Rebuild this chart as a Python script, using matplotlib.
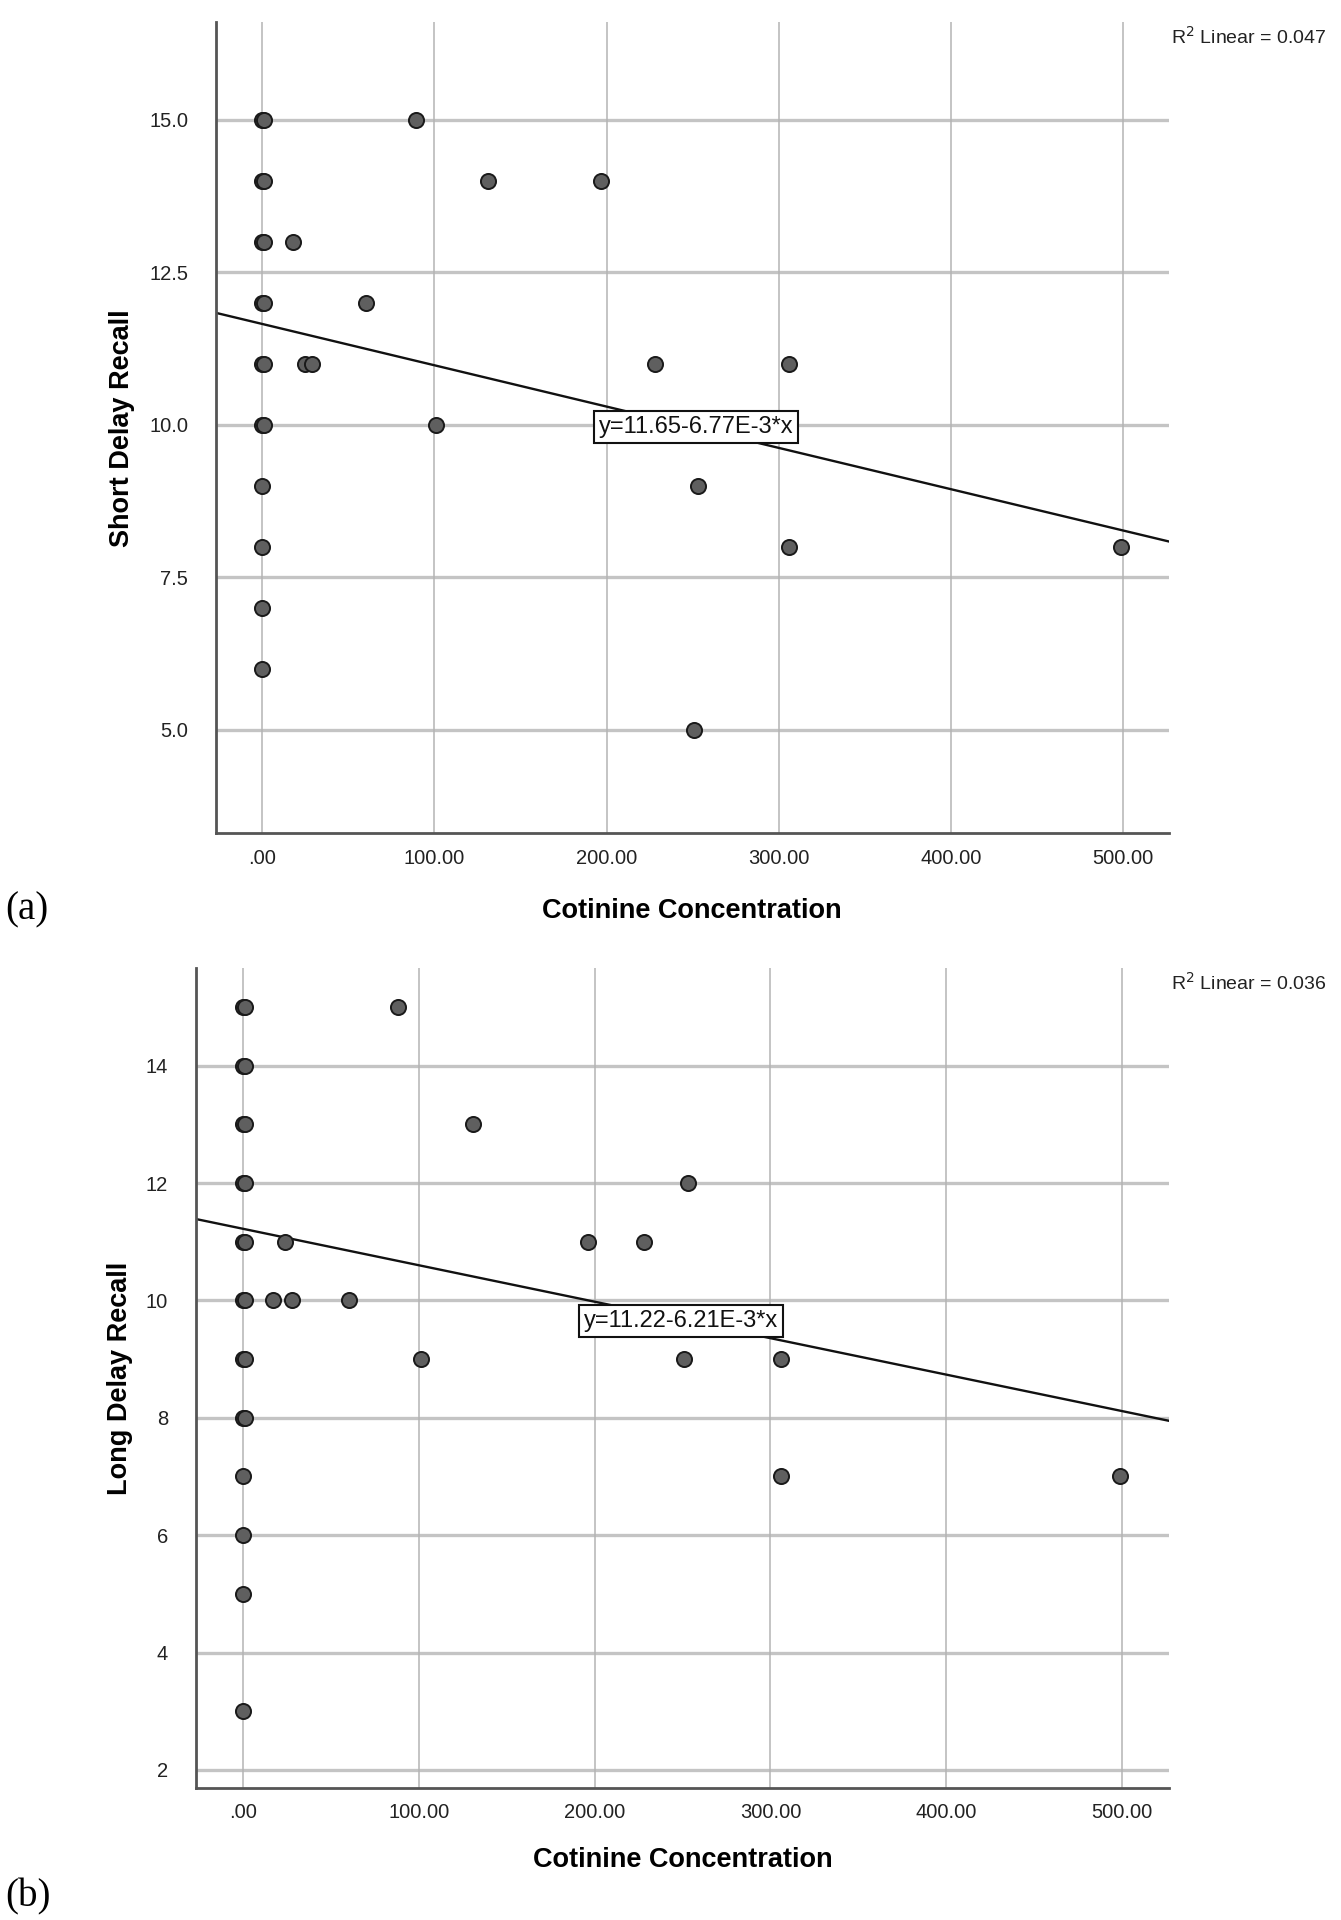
# plot.py
# SPSS-style scatter plots: cotinine concentration vs recall scores, with linear fit

import matplotlib
matplotlib.use("Agg")
import matplotlib.pyplot as plt

plt.rcParams["font.family"] = ["Liberation Sans", "DejaVu Sans"]

# panel (a): short delay recall (stacked points near 0 appear twice)
SHORT_X = [0, 0, 0, 0, 0, 0, 0, 0, 0, 0,
           1, 1, 1, 1, 1, 1,
           89, 131, 197, 18, 60, 25, 29, 228, 306, 101, 253, 251, 306, 499]
SHORT_Y = [15, 14, 13, 12, 11, 10, 9, 8, 7, 6,
           15, 14, 13, 12, 11, 10,
           15, 14, 14, 13, 12, 11, 11, 11, 11, 10, 9, 5, 8, 8]
SHORT_FIT = (11.65, -6.77e-3)
SHORT_R2 = "0.047"
SHORT_YTICKS = [5.0, 7.5, 10.0, 12.5, 15.0]

# panel (b): long delay recall
LONG_X = [0, 0, 0, 0, 0, 0, 0, 0, 0, 0, 0, 0,
          1, 1, 1, 1, 1, 1, 1, 1,
          88, 131, 253, 196, 228, 24, 17, 28, 60, 101, 251, 306, 306, 499]
LONG_Y = [15, 14, 13, 12, 11, 10, 9, 8, 7, 6, 5, 3,
          15, 14, 13, 12, 11, 10, 9, 8,
          15, 13, 12, 11, 11, 11, 10, 10, 10, 9, 9, 9, 7, 7]
LONG_FIT = (11.22, -6.21e-3)
LONG_R2 = "0.036"
LONG_YTICKS = [2, 4, 6, 8, 10, 12, 14]

X_TICKS = [0, 100, 200, 300, 400, 500]
X_TICKLABELS = [".00", "100.00", "200.00", "300.00", "400.00", "500.00"]
X_LABEL = "Cotinine Concentration"


def draw_panel(fig, rect, xs, ys, fit, r2, yticks, ylim, ylabel, ytick_fmt,
               eq_pos, r2_pos, ylabel_pos, xlabel_pos, tag, tag_pos):
    ax = fig.add_axes(rect)
    xlim = (-27, 527)
    ax.set_xlim(*xlim)
    ax.set_ylim(*ylim)

    # grid: heavier horizontal lines, thin vertical ones (SPSS look)
    for yv in yticks:
        ax.axhline(yv, color="#c4c4c4", linewidth=2.4, zorder=1)
    for xv in X_TICKS:
        ax.axvline(xv, color="#b4b4b4", linewidth=1.1, zorder=1)

    intercept, slope = fit
    ax.plot(list(xlim), [intercept + slope * xlim[0], intercept + slope * xlim[1]],
            color="#111111", linewidth=1.7, zorder=2)

    ax.scatter(xs, ys, s=118, facecolor="#5f5f5f", edgecolor="#1a1a1a",
               linewidth=1.4, zorder=3)

    eq = f"y={intercept:.2f}{slope * 1e3:.2f}E-3*x"
    ax.text(eq_pos[0], eq_pos[1], eq, fontsize=17, ha="center", va="center",
            zorder=4, color="#111111",
            bbox=dict(boxstyle="square,pad=0.2", facecolor="white",
                      edgecolor="#111111", linewidth=1.5))

    ax.set_xticks(X_TICKS)
    ax.set_xticklabels(X_TICKLABELS)
    ax.set_yticks(yticks)
    ax.set_yticklabels([ytick_fmt.format(v) for v in yticks])
    ax.tick_params(axis="x", length=0, pad=11, labelsize=14.5, colors="#222222")
    ax.tick_params(axis="y", length=0, pad=20, labelsize=14.5, colors="#222222")

    for side in ("top", "right"):
        ax.spines[side].set_visible(False)
    for side in ("left", "bottom"):
        ax.spines[side].set_color("#555555")
        ax.spines[side].set_linewidth(2.0)

    fig.text(r2_pos[0], r2_pos[1], f"R$^2$ Linear = {r2}", fontsize=14,
             ha="left", va="center", color="#222222")
    fig.text(ylabel_pos[0], ylabel_pos[1], ylabel, fontsize=19.5,
             fontweight="bold", rotation=90, ha="center", va="center")
    fig.text(xlabel_pos[0], xlabel_pos[1], X_LABEL, fontsize=19.5,
             fontweight="bold", ha="center", va="center")
    fig.text(tag_pos[0], tag_pos[1], tag, fontsize=28,
             family=["Liberation Serif", "DejaVu Serif"], ha="left", va="center")
    return ax


def main() -> None:
    fig = plt.figure(figsize=(13.41, 19.2), dpi=100)

    draw_panel(fig, [0.161, 0.566, 0.711, 0.4225], SHORT_X, SHORT_Y, SHORT_FIT,
               SHORT_R2, SHORT_YTICKS, (3.3, 16.6), "Short Delay Recall", "{:.1f}",
               eq_pos=(252, 9.96), r2_pos=(0.873, 0.981),
               ylabel_pos=(0.091, 0.777), xlabel_pos=(0.516, 0.5255),
               tag="(a)", tag_pos=(0.004, 0.526))

    draw_panel(fig, [0.146, 0.069, 0.726, 0.427], LONG_X, LONG_Y, LONG_FIT,
               LONG_R2, LONG_YTICKS, (1.7, 15.67), "Long Delay Recall", "{:.0f}",
               eq_pos=(249, 9.65), r2_pos=(0.873, 0.488),
               ylabel_pos=(0.0896, 0.282), xlabel_pos=(0.509, 0.031),
               tag="(b)", tag_pos=(0.004, 0.012))

    fig.savefig("out.png", dpi=100, facecolor="white")


if __name__ == "__main__":
    main()
